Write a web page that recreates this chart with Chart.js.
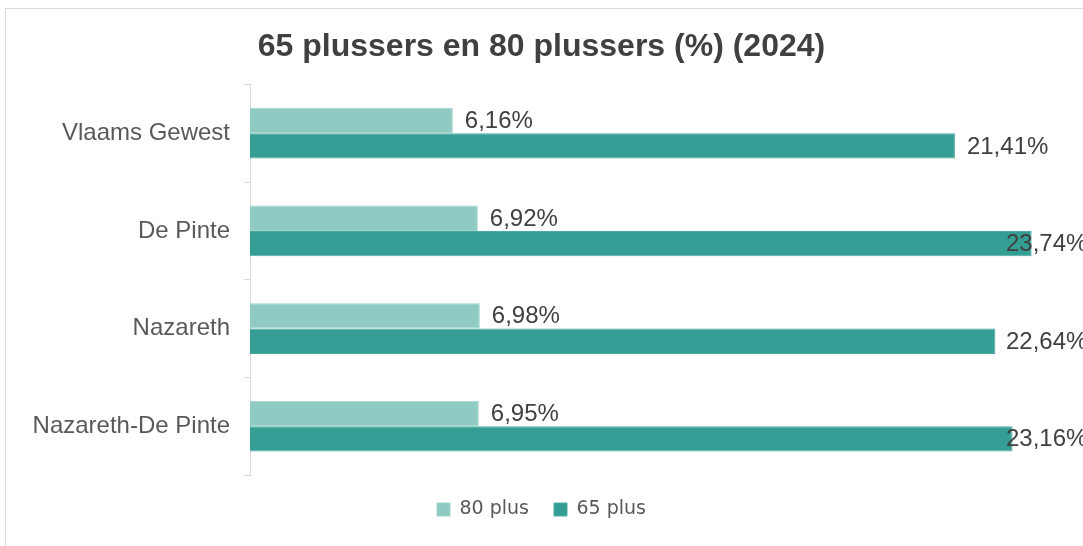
<!DOCTYPE html>
<html>
<head>
<meta charset="utf-8">
<script src="https://cdn.jsdelivr.net/npm/chart.js@4"></script>
<style>
  html, body { margin: 0; padding: 0; background: #fff; overflow: hidden; }
  #frame { position: absolute; left: 5px; top: 8px; width: 1200px; height: 600px;
           border-left: 1px solid #d9d9d9; border-top: 1px solid #d9d9d9; }
  #wrap { position: absolute; left: 0; top: 0; width: 1083px; height: 546px; }
</style>
</head>
<body>
<div id="frame"></div>
<div id="wrap"><canvas id="myChart"></canvas></div>
<script>
const categories = ['Vlaams Gewest', 'De Pinte', 'Nazareth', 'Nazareth-De Pinte'];
const plus80 = [6.16, 6.92, 6.98, 6.95];
const plus65 = [21.41, 23.74, 22.64, 23.16];
const seriesNames = ['80 plus', '65 plus'];

const fmt = v => v.toFixed(2).replace('.', ',') + '%';

// value labels next to the bar ends, pushed back in when they hit the right side
const barLabels = {
  id: 'barLabels',
  afterDatasetsDraw(chart) {
    const ctx = chart.ctx;
    ctx.save();
    ctx.font = '24px "Liberation Sans", Arial, sans-serif';
    ctx.fillStyle = '#404040';
    ctx.textBaseline = 'middle';
    ctx.textAlign = 'left';
    chart.data.datasets.forEach((ds, i) => {
      chart.getDatasetMeta(i).data.forEach((bar, j) => {
        const x = Math.min(bar.x + 12, chart.width - 77);
        ctx.fillText(fmt(ds.data[j]), x, bar.y + 1);
      });
    });
    ctx.restore();
  }
};

const chart = new Chart(document.getElementById('myChart'), {
  type: 'bar',
  data: {
    labels: categories,
    datasets: [
      { label: seriesNames[0], data: plus80, backgroundColor: '#8fcbc2', borderColor: '#9fd3cb', borderWidth: 1 },
      { label: seriesNames[1], data: plus65, backgroundColor: '#359e94', borderColor: '#4aaba1', borderWidth: 1 }
    ]
  },
  plugins: [barLabels],
  options: {
    indexAxis: 'y',
    responsive: true,
    maintainAspectRatio: false,
    animation: false,
    categoryPercentage: 0.52,
    barPercentage: 1,
    layout: { padding: { left: 0, right: 0, top: 0, bottom: 17 } },
    scales: {
      x: { display: false, min: 0, max: 25.3 },
      y: {
        afterFit(scale) { scale.width = 250; },
        grid: { drawOnChartArea: false, drawTicks: true, tickLength: 6, color: '#d9d9d9' },
        border: { display: true, color: '#d9d9d9' },
        ticks: { color: '#595959', padding: 14, font: { family: '"Liberation Sans", Arial, sans-serif', size: 24 } }
      }
    },
    plugins: {
      title: {
        display: true,
        text: '65 plussers en 80 plussers (%) (2024)',
        color: '#404040',
        font: { family: '"Liberation Sans", Arial, sans-serif', size: 32, weight: 'bold' },
        padding: { top: 28, bottom: 18 }
      },
      legend: {
        position: 'bottom',
        labels: {
          color: '#595959',
          boxWidth: 13, boxHeight: 13, padding: 25,
          font: { family: '"DejaVu Sans", sans-serif', size: 19 }
        }
      },
      tooltip: { enabled: false }
    }
  }
});
</script>
</body>
</html>
